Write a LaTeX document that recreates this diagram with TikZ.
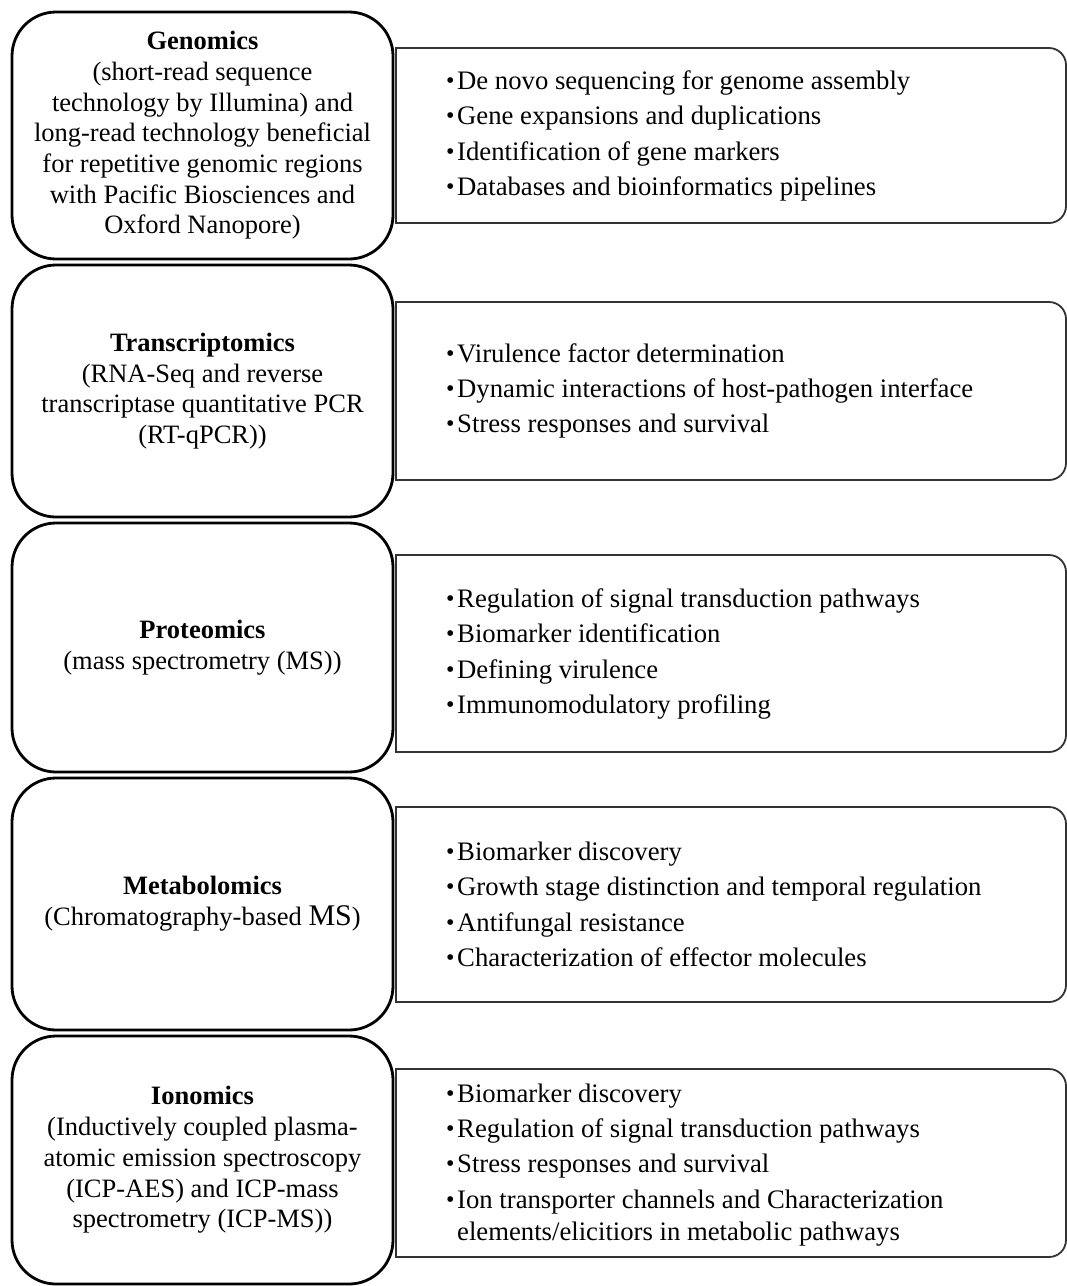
\documentclass[tikz,border=0pt]{standalone}
\usepackage{fontspec}
\setmainfont{Liberation Serif}
\newcommand\bul{\makebox[11pt][l]{\kern0pt\raisebox{1pt}{\scalebox{0.9}{•}}}}
\begin{document}
\begin{tikzpicture}[x=1pt,y=-1pt,
  leftbox/.style={draw=black, line width=2.8pt, rounded corners=44pt, fill=white,
    minimum width=381pt, align=center, inner sep=0pt,
    font=\fontsize{26.5}{30.7}\selectfont},
  rbox/.style={draw=black!80, line width=1.8pt},
  rtext/.style={anchor=west, align=left, inner sep=0pt,
    font=\fontsize{26.7}{35.3}\selectfont}]
\useasboundingbox (0,0) rectangle (1067,1286);

% right boxes (drawn first)
\foreach \t/\b in {48/223, 302/480, 555/752, 807/1002, 1069/1257}{
  \draw[rbox, rounded corners=17pt] (396,\t) -- (1066,\t) -- (1066,\b) -- (396,\b);
  \draw[rbox, line cap=rect] (396,\t) -- (396,\b);
}

% left boxes
\node[leftbox, minimum height=247pt] (genomics) at (202.5,135.5)
  {\textbf{Genomics}\\(short-read sequence\\technology by Illumina) and\\long-read technology beneficial\\for repetitive genomic regions\\with Pacific Biosciences and\\Oxford Nanopore)};
\node[leftbox, minimum height=252pt] (transcriptomics) at (202.5,391)
  {\textbf{Transcriptomics}\\(RNA-Seq and reverse\\transcriptase quantitative PCR\\(RT-qPCR))};
\node[leftbox, minimum height=249pt] (proteomics) at (202.5,647.5)
  {\textbf{Proteomics}\\(mass spectrometry (MS))};
\node[leftbox, minimum height=252pt] (metabolomics) at (202.5,904)
  {\textbf{Metabolomics}\\(Chromatography-based {\fontsize{30}{30}\selectfont MS})};
\node[leftbox, minimum height=248pt] (ionomics) at (202.5,1160)
  {\textbf{Ionomics}\\(Inductively coupled plasma-\\atomic emission spectroscopy\\(ICP-AES) and ICP-mass\\spectrometry (ICP-MS))};

% right texts
\node[rtext] (genomicsuses) at (446,136)
  {\bul De novo sequencing for genome assembly\\\bul Gene expansions and duplications\\\bul Identification of gene markers\\\bul Databases and bioinformatics pipelines};
\node[rtext] (transcriptomicsuses) at (446,391)
  {\bul Virulence factor determination\\\bul Dynamic interactions of host-pathogen interface\\\bul Stress responses and survival};
\node[rtext] (proteomicsuses) at (446,654)
  {\bul Regulation of signal transduction pathways\\\bul Biomarker identification\\\bul Defining virulence\\\bul Immunomodulatory profiling};
\node[rtext] (metabolomicsuses) at (446,904.5)
  {\bul Biomarker discovery\\\bul Growth stage distinction and temporal regulation\\\bul Antifungal resistance\\\bul Characterization of effector molecules};
\node[rtext] (ionomicsuses) at (446,1165)
  {\bul Biomarker discovery\\\bul Regulation of signal transduction pathways\\\bul Stress responses and survival\\\bul Ion transporter channels and Characterization\\[-3pt]\hspace*{11pt}elements/elicitiors in metabolic pathways};
\end{tikzpicture}
\end{document}
